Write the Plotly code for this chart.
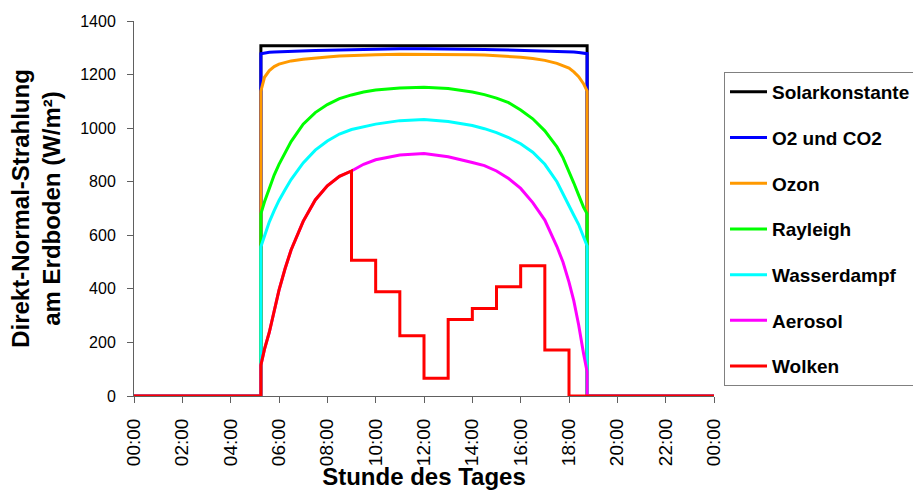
import plotly.graph_objects as go

# Stunde des Tages (dezimal) zwischen Sonnenaufgang und Sonnenuntergang
stunden = [5.25, 5.4, 5.6, 5.8, 6.0, 6.25, 6.5, 7.0, 7.5, 8.0, 8.5, 9.0, 9.5, 10.0,
           11.0, 12.0, 13.0, 14.0, 14.5, 15.0, 15.5, 16.0, 16.5, 17.0, 17.5, 17.75,
           18.0, 18.2, 18.4, 18.6, 18.75]

solarkonstante = [1308, 1308, 1308, 1308, 1308, 1308, 1308, 1308, 1308, 1308, 1308,
                  1308, 1308, 1308, 1308, 1308, 1308, 1308, 1308, 1308, 1308, 1308,
                  1308, 1308, 1308, 1308, 1308, 1308, 1308, 1308, 1308]
o2_co2 = [1278, 1281, 1283, 1284, 1285, 1286, 1287, 1289, 1290, 1291, 1292, 1293, 1294,
          1295, 1296, 1296, 1296, 1295, 1294, 1293, 1292, 1291, 1290, 1289, 1287, 1286,
          1285, 1284, 1282, 1280, 1278]
ozon = [1138, 1190, 1215, 1230, 1239, 1246, 1251, 1257, 1262, 1266, 1269, 1271, 1273,
        1274, 1276, 1276, 1275, 1274, 1273, 1271, 1268, 1265, 1260, 1253, 1242, 1234,
        1224, 1210, 1192, 1166, 1138]
rayleigh = [680, 725, 775, 825, 865, 910, 950, 1015, 1058, 1088, 1110, 1124, 1135,
            1142, 1150, 1153, 1148, 1135, 1125, 1112, 1095, 1068, 1035, 990, 930, 890,
            840, 795, 750, 705, 680]
wasserdampf = [557, 600, 650, 692, 730, 770, 808, 870, 918, 952, 978, 995, 1005, 1015,
               1028, 1032, 1025, 1010, 998, 983, 965, 942, 910, 865, 800, 755, 705, 675,
               640, 590, 560]
aerosol = [115, 175, 238, 320, 395, 475, 545, 652, 732, 785, 820, 840, 865, 882, 900,
           905, 893, 872, 860, 840, 812, 775, 722, 657, 558, 500, 425, 355, 265, 160, 90]

# Bewölkung ab 09:00: stündliche Werte der Direktstrahlung (09-10, 10-11, ... 17-18 Uhr)
wolken_beginn = 9.0
wolken_stunden = [9, 10, 11, 12, 13, 14, 15, 16, 17, 18]
wolken_werte = [507, 389, 225, 66, 286, 327, 408, 486, 172]

tick_stunden = [0, 2, 4, 6, 8, 10, 12, 14, 16, 18, 20, 22, 24]
tick_texte = ["00:00", "02:00", "04:00", "06:00", "08:00", "10:00", "12:00",
              "14:00", "16:00", "18:00", "20:00", "22:00", "00:00"]

serien = [
    ("Solarkonstante", solarkonstante, "#000000"),
    ("O2 und CO2", o2_co2, "#0000FF"),
    ("Ozon", ozon, "#FF9900"),
    ("Rayleigh", rayleigh, "#00FF00"),
    ("Wasserdampf", wasserdampf, "#00FFFF"),
    ("Aerosol", aerosol, "#FF00FF"),
]

FONT = "Arial, Liberation Sans, sans-serif"


def tagesverlauf(werte):
    """Nachtwerte (0) vor Sonnenaufgang und nach Sonnenuntergang ergänzen."""
    x = [0, stunden[0]] + stunden + [stunden[-1], 24]
    y = [0, 0] + werte + [0, 0]
    return x, y


fig = go.Figure()
for name, werte, farbe in serien:
    x, y = tagesverlauf(werte)
    fig.add_trace(go.Scatter(x=x, y=y, mode="lines", name=name, legendgroup=name,
                             line=dict(color=farbe, width=3)))

# Wolken: bis 09:00 wie Aerosol, danach stufenweise
wx = [0, stunden[0]]
wy = [0, 0]
for t, v in zip(stunden, aerosol):
    if t <= wolken_beginn:
        wx.append(t)
        wy.append(v)
for i, v in enumerate(wolken_werte):
    wx += [wolken_stunden[i], wolken_stunden[i + 1]]
    wy += [v, v]
wx += [wolken_stunden[-1], 24]
wy += [0, 0]
fig.add_trace(go.Scatter(x=wx, y=wy, mode="lines", name="Wolken", legendgroup="Wolken",
                         line=dict(color="#FF0000", width=3)))

achse = dict(showline=True, linecolor="#606060", linewidth=1, ticks="outside",
             tickcolor="#606060", ticklen=6, showgrid=False, zeroline=False,
             layer="below traces", mirror=False, automargin=False)

fig.update_layout(
    width=913, height=490,
    margin=dict(l=134, r=199, t=21, b=94),
    paper_bgcolor="white", plot_bgcolor="white",
    font=dict(family=FONT, color="black"),
    xaxis=dict(range=[0, 24], tickvals=tick_stunden, ticktext=tick_texte,
               tickangle=-90, tickfont=dict(size=19), ticklabelstandoff=8,
               title=dict(text="<b>Stunde des Tages</b>", font=dict(size=24), standoff=2),
               **achse),
    yaxis=dict(range=[0, 1400], tickvals=[0, 200, 400, 600, 800, 1000, 1200, 1400],
               tickfont=dict(size=16), ticklabelstandoff=8,
               title=dict(text="<b>Direkt-Normal-Strahlung<br>am Erdboden (W/m²)</b>",
                          font=dict(size=24), standoff=12),
               **achse),
    legend=dict(xref="container", yref="container", x=724 / 913, y=1 - 72 / 490,
                xanchor="left", yanchor="top", bordercolor="#808080", borderwidth=1,
                font=dict(size=19, family=FONT, weight="bold"), tracegroupgap=18,
                itemwidth=37, maxheight=430, bgcolor="white"),
    showlegend=True,
)

fig.write_html("out.html")
